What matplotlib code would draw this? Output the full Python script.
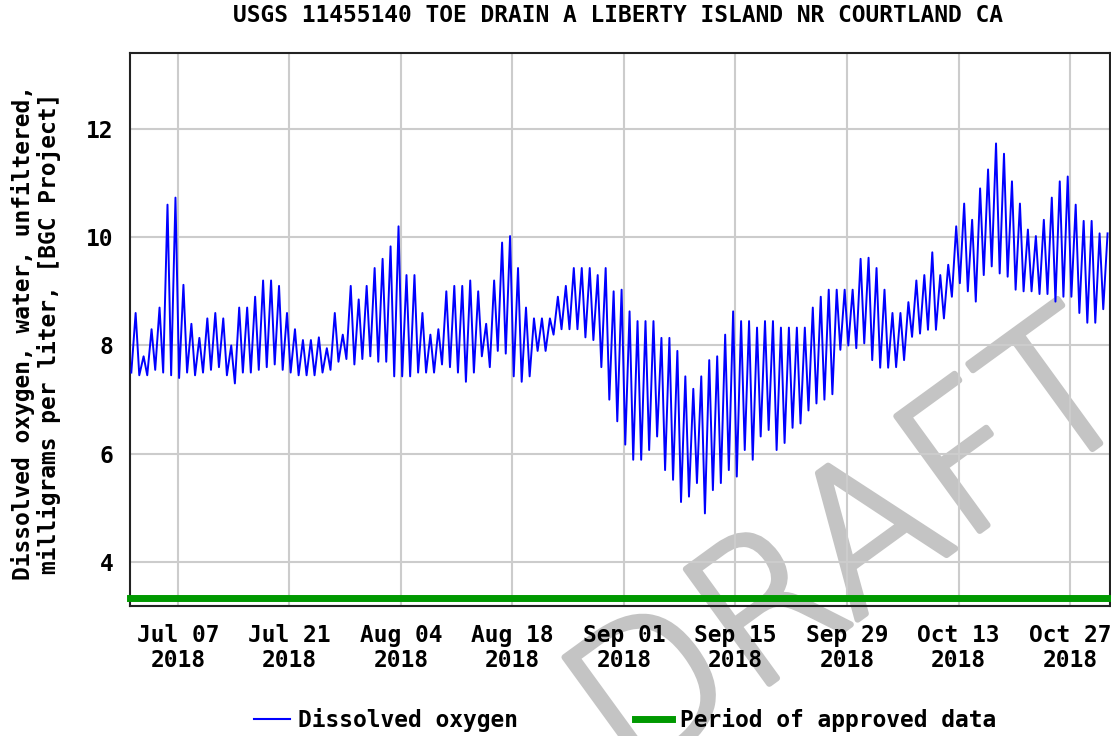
import numpy as np
import matplotlib
matplotlib.use("Agg")
import matplotlib.pyplot as plt
import matplotlib.dates as mdates
import matplotlib.patheffects as pe
from matplotlib.lines import Line2D

# ---------------- data ----------------
start_date = "2018-07-01"
# daily maximum dissolved oxygen, mg/L (Jul 1 .. Oct 31)
daily_max = [
    8.6, 7.8, 8.3, 8.7, 10.6, 10.73, 9.12, 8.4, 8.14, 8.5,
    8.6, 8.5, 8.0, 8.7, 8.7, 8.9, 9.2, 9.2, 9.1, 8.6,
    8.3, 8.1, 8.1, 8.15, 7.95, 8.6, 8.2, 9.1, 8.85, 9.1,
    9.43, 9.6, 9.83, 10.2, 9.3, 9.3, 8.6, 8.2, 8.3, 9.0,
    9.1, 9.1, 9.2, 9.0, 8.4, 9.2, 9.9, 10.02, 9.43, 8.7,
    8.5, 8.5, 8.5, 8.9, 9.1, 9.43, 9.43, 9.43, 9.3, 9.43,
    9.0, 9.03, 8.63, 8.45, 8.45, 8.45, 8.14, 8.14, 7.9, 7.43,
    7.2, 7.43, 7.73, 7.8, 8.2, 8.63, 8.45, 8.45, 8.33, 8.45,
    8.45, 8.33, 8.33, 8.33, 8.33, 8.7, 8.9, 9.03, 9.03, 9.03,
    9.03, 9.6, 9.62, 9.43, 9.03, 8.6, 8.6, 8.8, 9.2, 9.3,
    9.72, 9.3, 9.49, 10.2, 10.62, 10.32, 10.9, 11.25, 11.73, 11.54,
    11.03, 10.62, 10.14, 10.02, 10.32, 10.73, 11.03, 11.12, 10.6, 10.3,
    10.3, 10.07, 10.07,
]
# daily minimum dissolved oxygen, mg/L
daily_min = [
    7.5, 7.45, 7.45, 7.55, 7.5, 7.45, 7.4, 7.5, 7.45, 7.5,
    7.55, 7.6, 7.45, 7.3, 7.5, 7.5, 7.55, 7.6, 7.65, 7.55,
    7.5, 7.45, 7.45, 7.45, 7.5, 7.55, 7.7, 7.75, 7.65, 7.75,
    7.8, 7.7, 7.7, 7.43, 7.43, 7.43, 7.5, 7.5, 7.5, 7.65,
    7.6, 7.5, 7.33, 7.5, 7.8, 7.6, 7.9, 7.85, 7.43, 7.33,
    7.43, 7.9, 7.9, 8.2, 8.3, 8.3, 8.3, 8.15, 8.1, 7.6,
    7.0, 6.6, 6.17, 5.89, 5.89, 6.07, 6.32, 5.7, 5.52, 5.11,
    5.21, 5.46, 4.9, 5.33, 5.46, 5.7, 5.58, 6.07, 5.89, 6.32,
    6.44, 6.07, 6.2, 6.48, 6.56, 6.8, 6.93, 7.0, 7.1, 7.92,
    8.0, 7.95, 8.04, 7.73, 7.59, 7.59, 7.6, 7.73, 8.16, 8.22,
    8.29, 8.29, 8.5, 8.9, 9.15, 9.0, 8.81, 9.3, 9.46, 9.33,
    9.27, 9.03, 9.0, 9.0, 8.95, 8.95, 8.81, 8.9, 8.9, 8.6,
    8.42, 8.42, 8.67,
]
approved_start = "2018-07-01"
approved_end = "2018-11-01"
approved_level = 3.33
xlim_dates = ["2018-07-01", "2018-11-01"]
tick_dates = ["2018-07-07", "2018-07-21", "2018-08-04", "2018-08-18", "2018-09-01",
              "2018-09-15", "2018-09-29", "2018-10-13", "2018-10-27"]
y_ticks = [4, 6, 8, 10, 12]
title = "USGS 11455140 TOE DRAIN A LIBERTY ISLAND NR COURTLAND CA"
ylabel = "Dissolved oxygen, water, unfiltered,\nmilligrams per liter, [BGC Project]"

# ---------------- build time series: min in early morning, max late afternoon ----
day0 = np.datetime64(start_date + "T00:00")
n = len(daily_max)
times, vals = [], []
for d in range(n):
    times.append(day0 + np.timedelta64(d * 24 + 4, "h"))
    vals.append(daily_min[d])
    times.append(day0 + np.timedelta64(d * 24 + 17, "h"))
    vals.append(daily_max[d])
times = np.array(times, dtype="datetime64[m]").astype("datetime64[s]").astype(object)

# ---------------- figure ----------------
FONT = "DejaVu Sans Mono"
FS = 16.5
plt.rcParams["font.family"] = [FONT, "DejaVu Sans"]
plt.rcParams["font.weight"] = "bold"

fig = plt.figure(figsize=(11.11, 7.36), dpi=100)
ax = fig.add_axes([0.117, 0.1766, 0.882, 0.7514])
ax.set_facecolor("none")

ax.plot(times, vals, color="#0000ff", lw=1.4, zorder=3)

ap = np.array([approved_start, approved_end], dtype="datetime64[s]").astype(object)
ax.plot(ap, [approved_level, approved_level], color="#009900", lw=5,
        solid_capstyle="projecting", clip_on=False, zorder=4)

ax.set_xlim(np.array(xlim_dates, dtype="datetime64[s]").astype(object))
ax.set_ylim(3.19, 13.4)
ax.set_yticks(y_ticks)
ax.set_xticks(np.array(tick_dates, dtype="datetime64[s]").astype(object))
ax.xaxis.set_major_formatter(mdates.DateFormatter("%b %d\n%Y"))

ax.grid(True, color="#cccccc", lw=1.5, zorder=0)
ax.set_axisbelow(True)
for s in ax.spines.values():
    s.set_linewidth(1.5)
    s.set_color("#222222")

ax.tick_params(axis="both", length=0, labelsize=FS)
ax.tick_params(axis="x", pad=13)
ax.tick_params(axis="y", pad=12)
for lab in ax.get_xticklabels():
    lab.set_linespacing(1.1)
    lab.set_fontweight("bold")
for lab in ax.get_yticklabels():
    lab.set_fontweight("bold")

fig.text(618 / 1111, 1 - 15 / 736, title, ha="center", va="center",
         fontsize=FS, fontweight="bold")
fig.text(36 / 1111, 1 - 333 / 736, ylabel, ha="center", va="center",
         rotation=90, fontsize=FS, fontweight="bold", linespacing=1.1,
         multialignment="center")

handles = [Line2D([], [], color="#0000ff", lw=1.5),
           Line2D([], [], color="#009900", lw=5)]
leg = fig.legend(handles, ["Dissolved oxygen", "Period of approved data"],
                 loc="center", bbox_to_anchor=(625 / 1111, 16 / 736), ncol=2,
                 frameon=False, fontsize=FS, handlelength=1.6, handletextpad=0.35,
                 columnspacing=5.1, borderaxespad=0, borderpad=0)
leg.set_zorder(5)

# DRAFT watermark (drawn beneath the axes content, which has a transparent background)
wm_color = "#c4c4c4"
fig.text(855 / 1111, 1 - 555 / 736, "DRAFT", ha="center", va="center",
         rotation=36, fontsize=140, color=wm_color,
         fontfamily="DejaVu Sans", fontweight=200, zorder=-1,
         path_effects=[pe.withStroke(linewidth=4.5, foreground=wm_color)])

fig.savefig("out.png", dpi=100)
